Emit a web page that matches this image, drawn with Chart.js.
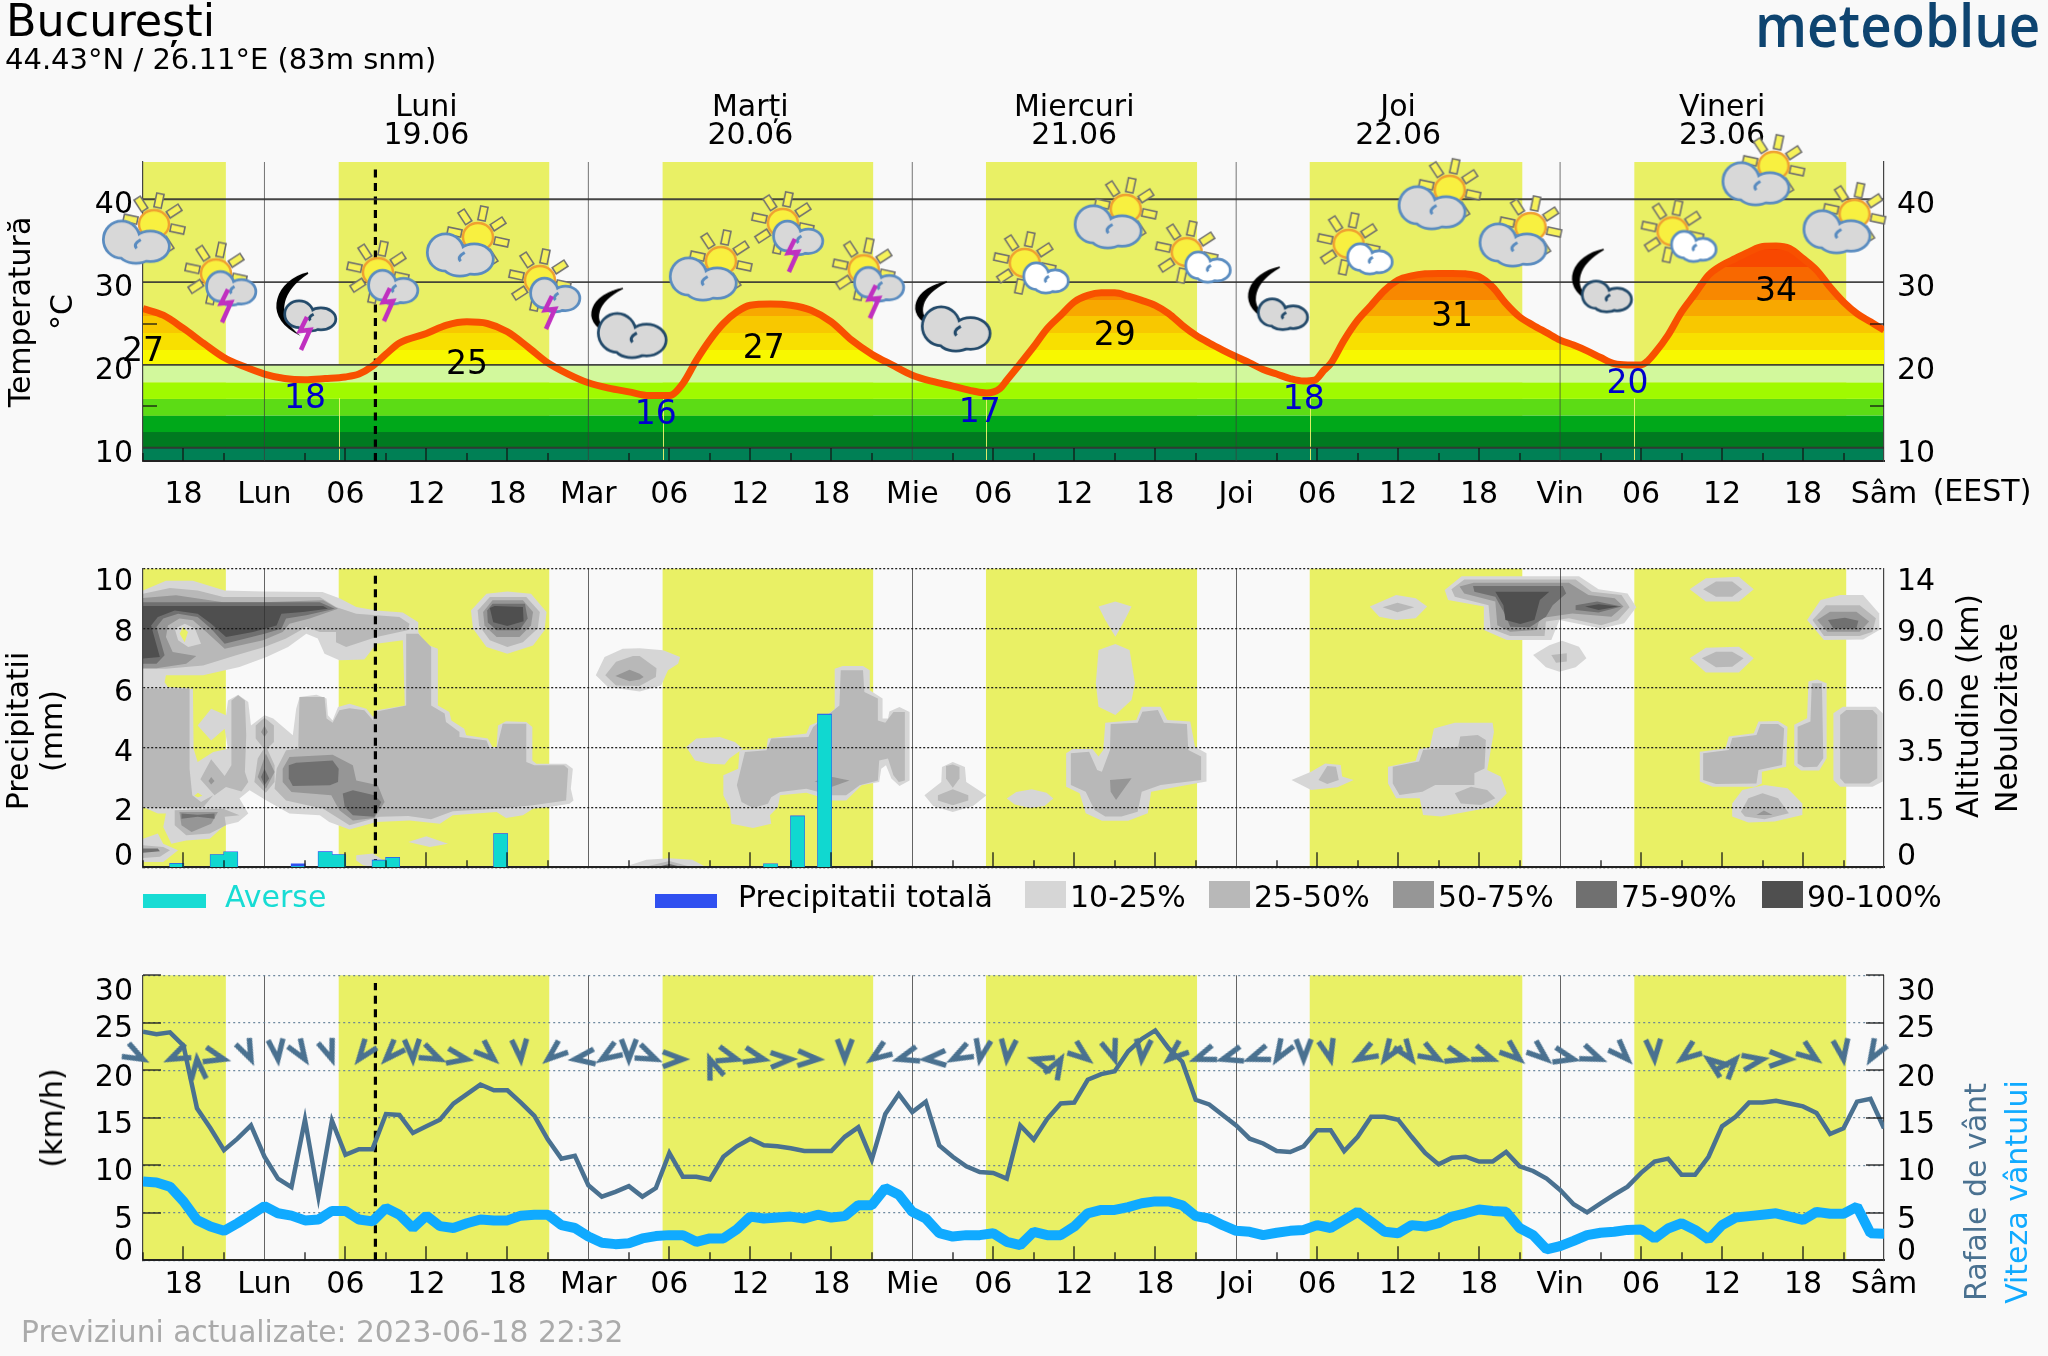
<!DOCTYPE html>
<html lang="ro">
<head>
<meta charset="utf-8">
<title>meteoblue București</title>
<script src="https://cdn.jsdelivr.net/npm/chart.js@4/dist/chart.umd.min.js"></script>
<style>
html, body { margin: 0; background: #f9f9f9; }
body { width: 2048px; height: 1356px; position: relative; overflow: hidden; font-family: "DejaVu Sans", sans-serif; }
canvas { position: absolute; left: 0; }
.txt { position: absolute; white-space: nowrap; line-height: 1; }
.swatch { position: absolute; }
</style>
</head>
<body>
<canvas id="chartTemp" width="2048" height="530" style="top:0"></canvas>
<canvas id="chartPrecip" width="2048" height="380" style="top:530px"></canvas>
<canvas id="chartWind" width="2048" height="390" style="top:930px"></canvas>
<script>
// hours are counted from 15:00 on 18.06, the left edge of every panel
const hourMax = 129;
const xTickHours = [3,9,15,21,27,33,39,45,51,57,63,69,75,81,87,93,99,105,111,117,123,129];
const xTickLabels = ['18','Lun','06','12','18','Mar','06','12','18','Mie','06','12','18','Joi','06','12','18','Vin','06','12','18','Sâm'];
const midnightHours = [9,33,57,81,105];
const minorTickHours = [0,6,12,18,24,30,36,42,48,54,60,66,72,78,84,90,96,102,108,114,120,126];
const dayHours = [21,45,69,93,117];
const dayNames = ['Luni','Marți','Miercuri','Joi','Vineri'];
const dayDates = ['19.06','20.06','21.06','22.06','23.06'];
const daylightSpans = [[0,6.14],[14.5,30.1],[38.5,54.1],[62.46,78.1],[86.45,102.2],[110.5,126.2]];
const sunriseHours = [14.5,38.5,62.46,86.45,110.5];
const nowHour = 17.22;

// temperature panel
const tempTicks = [10,20,30,40];
const tempMinorTicks = [15,25];
const tempHours = [0,1.5,3,4.5,6,7.5,9,10.5,12,13.5,15,16,17,18,19,21,22.5,24,25.5,27,28.5,30,31.5,33,34.5,36,37.5,39,40,41,42,43,44,45,46.5,48,49.5,51,52.5,54,55.5,57,58.5,60,61.5,62.5,63.5,64,65,
  66,67,68,69,70,71,72,73,74,75,76,77,78,79,80,81,82,83,84,85,86,86.8,87.5,88,89,90,91,92,93,94,95,96,97,98,99,100,101,102,103,104,105,106,107,108,109,110,111,111.5,112,113,114,115,116,117,118,119,120,121,122,123,124,125,126,127,128,129];
const tempValues = [26.8,26,24.4,22.6,20.9,19.8,18.9,18.35,18.2,18.35,18.55,18.9,19.85,21.3,22.65,23.8,24.8,25.2,25,24,22.2,20.25,18.9,17.85,17.2,16.75,16.3,16.3,17.75,20.55,23,25,26.4,27.2,27.35,27.2,26.6,25.2,23,21.3,20,18.75,18,17.45,16.85,16.6,17.15,18.15,20.15,
  22.2,24.4,26,27.6,28.4,28.7,28.7,28.3,27.8,27.2,26.2,24.8,23.6,22.65,21.8,21,20.25,19.45,18.9,18.35,18.05,18.15,19.35,20.15,23,25.4,27.2,29,30.25,30.75,31,31.05,31.05,31,30.65,29.4,27.4,25.8,24.8,23.9,23,22.4,21.7,20.9,20.15,20,20,20.5,21.4,23.6,26.4,28.6,30.85,32.05,32.85,33.65,34.3,34.35,34.05,32.85,31.45,29.4,27.6,26.2,25.2,24.2];
const coldEdges = [8.4,10,11.9,13.9,15.9,17.9,20];
const coldColors = ['#008055','#007a20','#00a81a','#5cdc15','#a0fa00','#d2f89c'];
const warmEdges = [20,21.85,23.87,25.9,27.8,29.9,31.85,33.85,45];
const warmColors = ['#f8f800','#f8e000','#f8c800','#f8a800','#f88800','#f86800','#f84800','#f82800'];
const extremeHours = [0,12,24,38,46,62,72,86,97,110,121];
const extremeLevels = [21.5,15.8,19.9,13.9,21.9,14.2,23.4,15.7,25.7,17.6,28.8];
const extremeTexts = ['27','18','25','16','27','17','29','18','31','20','34'];
const extremeColors = ['#000','#0000cc','#000','#0000cc','#000','#0000cc','#000','#0000cc','#000','#0000cc','#000'];
const iconHours = [0,6,12,18,24,30,36,42,48,54,60,66,72,78,84,90,96,102,108,114,120,126];
const iconLevels = [36.15,29.6,26.4,29.75,34.6,28.8,25,31.7,35.7,30.1,25.8,32.2,38,33.5,28.05,34.5,40.3,35.8,30.2,36,43.2,37.4];
const iconKinds = ['sunCloud','sunStorm','moonStorm','sunStorm','sunCloud','sunStorm','moonCloud','sunCloud','sunStorm','sunStorm','moonCloud','sunFair','sunCloud','sunFair','moonSmall','sunFair','sunCloud','sunCloud','moonSmall','sunFair','sunCloud','sunCloud'];

// precipitation and cloud panel
const precipTicks = [0,2,4,6,8,10];
const altitudeLabels = ['0','1.5','3.5','6.0','9.0','14'];
const precipEndHours = [3,6,7,12,14,15,18,19,27,47,49,51];
const precipTotal = [0.13,0.43,0.52,0.12,0.53,0.43,0.24,0.33,1.13,0.12,1.72,5.13];
const precipShowers = [0.11,0.41,0.5,0.02,0.5,0.41,0.22,0.31,1.1,0.1,1.7,5.1];
const cloudColors = ['#d6d6d6','#b8b8b8','#969696','#707070','#4f4f4f'];
const cloudLabels = ['10-25%','25-50%','50-75%','75-90%','90-100%'];

// outlines of the cloud cover: hour, height on the left scale, hour, height ...
// a nested list is one outline with holes
const clouds10 = [
  [[0,9.27,1.7,9.6,3.7,9.6,6.05,9.27,8.9,9.24,13.3,9.22,14.6,9,15.8,8.72,17.3,8.6,19.25,8.53,20.4,8.21,20.4,7.88,20.9,7.49,21.85,7.32,21.85,5.42,22.7,5.2,22.85,4.92,23.8,4.64,23.95,4.42,25.55,4.31,25.9,4.03,26.2,4.03,26.3,4.75,26.9,4.89,28.4,4.87,28.85,4.7,28.85,3.58,29.15,3.47,31.35,3.47,31.85,3.3,31.7,2.63,31.9,2.24,31.6,2.13,30.1,2.02,28.9,1.96,28.15,1.74,26.9,1.65,26.2,1.85,22.95,1.74,22,1.46,19.75,1.57,17.3,1.52,15.3,1.27,13.8,1.52,13.1,1.74,10.85,1.8,9.15,2.24,7.9,2.58,7.15,2.3,7.8,1.8,7.05,1.52,6.05,1.41,4.95,0.96,3.2,0.9,2.1,0.79,1.5,1.35,1.7,1.8,1.1,1.8,0,2.02],
   [1.7,6.43,4.45,6.43,7.15,6.71,9.15,7.04,10.75,7.38,12.1,7.82,12.95,7.66,13.45,7.15,14.55,6.93,16.4,6.96,17.3,7.49,19.25,7.6,19.4,5.42,17.3,5.26,17.05,5.03,16.55,5.31,15.3,5.48,14.45,5.37,14.05,4.92,13.7,5.09,13.6,5.65,12.85,5.78,11.6,5.7,11.35,5.31,11.1,4.42,9.65,4.98,9,5.09,8,4.75,7.8,5.54,7.05,5.78,6.3,5.59,6.15,5.09,5.05,5.31,4.05,4.75,5.05,4.25,6.05,4.64,6.3,3.97,5.2,3.86,4.05,3.53,3.75,3.97,3.7,5.98,1.85,6.04,1.6,6.2],
   [2.96,8.05,3.33,7.88,3.09,7.54,2.72,7.82],
   [4.07,2.5,4.4,2.4,4.07,2.35,3.8,2.4]],
  [15.8,0.4,17.05,0.46,18,0.18,17.05,0.01,16.3,0.07,15.8,0.23],
  [19.65,0.85,21,1.04,22.6,0.79,21.25,0.68],
  [0,0.96,1.1,1.13,1.5,0.79,2.6,0.57,1.5,0.18,0,0.18],
  [24.3,8.6,25.45,9.16,27,9.24,28.75,9.16,29.9,8.55,29.75,7.94,28.9,7.43,27,7.15,25.45,7.38,24.45,8],
  [33.55,6.43,34.2,7.04,35.55,7.32,36.8,7.34,38.55,7.27,39.8,7.04,39.65,6.82,38.9,6.6,38.4,6.09,36.8,5.89,34.45,6.04],
  [35.6,0,37.3,0.25,39,0.3,40.7,0.25,41.75,0],
  [40.25,4.03,41,4.31,42.75,4.36,43.85,4.2,44.45,3.97,43.45,3.64,43.1,3.44,42,3.47,40.9,3.58],
  [43,3.08,44.1,3.3,44.2,3.92,46.2,3.97,46.3,4.31,49.15,4.48,49.4,4.75,50,4.87,51.25,5.31,51.25,6.65,51.85,6.74,53.35,6.74,53.85,6.6,53.85,5.93,54.8,5.65,54.8,4.98,55.2,4.98,55.3,5.22,56.05,5.37,56.8,5.2,56.8,2.91,56.05,2.72,55.45,2.97,55.05,3.42,54.7,3.3,54.55,2.86,53.25,2.75,52.1,2.24,51,2.24,49.15,2.5,47.2,2.41,47.05,2.02,46.45,1.74,46.55,1.46,45.2,1.32,43.6,1.46,43.5,1.96,43,2.41],
  [57.9,2.41,59.15,2.86,59.2,3.36,60,3.53,60.9,3.36,61,2.86,62.5,2.41,61.5,2.05,60,1.85,58.55,2.05],
  [64,2.3,64.7,2.52,65.85,2.61,66.95,2.5,67.45,2.3,66.8,2.05,65.7,1.99,64.6,2.1],
  [70.8,8.73,72.05,8.9,73.25,8.73,72.75,8.28,72.05,7.72,71.3,8.28],
  [72.05,7.48,73.1,7.28,73.5,6.16,73.25,5.6,72.05,5.1,70.8,5.38,70.6,6.16,70.8,7.28],
  [68.4,3.82,68.9,3.96,70.35,3.96,70.8,3.71,71.15,3.93,71.3,4.84,73.6,4.93,74,5.38,75.4,5.38,75.9,4.93,77.6,4.88,77.95,4.04,78.8,3.82,78.8,2.87,76.65,2.7,74.7,2.53,74.45,1.81,73,1.56,71.05,1.56,69.85,1.81,69.4,2.48,68.4,2.7],
  [85.1,2.92,86.55,3.2,87.6,3.48,88.75,3.43,88.85,3.04,89.7,2.92,88.5,2.68,86.55,2.59],
  [92.25,3.37,94.3,3.57,94.55,3.95,95.35,4.02,95.65,4.65,97.2,4.84,100,4.84,100.1,4.54,99.6,3.26,100.6,3.04,101.05,2.48,100.1,2.03,96.2,1.7,94.85,1.75,94.6,2.31,92.85,2.31,92.25,2.81],
  [90.9,8.73,92.85,9.12,94.3,9.01,95.15,8.73,94.3,8.34,92.85,8.28,91.6,8.39],
  [96.45,9.29,97.7,9.75,106.4,9.75,107.85,9.31,110,9.17,110.65,8.71,109.75,8.17,108.05,8,104.95,8.28,104.35,7.61,101.05,7.61,99.35,7.95,99.35,8.73,96.7,8.95],
  [103,7.11,104.2,7.44,105.15,7.59,106.4,7.39,106.95,7,106.15,6.7,104.95,6.55,103.95,6.7],
  [114.6,9.31,115.8,9.68,118.25,9.73,119.35,9.31,118.25,8.9,115.8,8.9],
  [114.6,7,115.8,7.35,118.25,7.39,119.35,7,118.25,6.52,115.8,6.52],
  [123.3,8.28,124.3,8.95,125.75,9.12,127.45,9.12,128.65,8.5,128.65,7.95,127.45,7.63,124.55,7.61],
  [115.35,3.87,117.25,3.98,117.5,4.38,119.35,4.49,119.7,4.88,121.15,4.9,121.85,4.71,121.75,3.37,119.95,3.2,119.95,2.81,119.45,2.7,116.3,2.7,115.35,2.87],
  [122.35,4.77,123.3,4.99,123.4,6.22,124.05,6.29,124.75,6.16,124.75,3.65,124.2,3.24,122.85,3.24,122.35,3.43],
  [125.25,5.16,125.95,5.38,128.4,5.38,128.9,5.16,128.9,2.87,128.15,2.7,125.75,2.7,125.25,2.92],
  [117.75,2.14,118.5,2.59,120.15,2.76,121.85,2.65,122.95,2.14,122.95,1.75,120.9,1.53,118.95,1.5,117.75,1.7]
];
const clouds25 = [
  [[0,9.16,2,9.35,4.05,9.27,5.95,9.05,8.9,9.05,13.1,9.05,14.3,8.72,15.8,8.49,17.3,8.44,19,8.38,19.75,8.16,19.6,7.94,17.3,7.71,15.05,7.38,14.3,7.54,14.3,7.88,13.1,7.88,12.1,8.05,10.6,7.66,9,7.38,6.9,7.1,4.45,6.76,1.7,6.65,0,6.65],
   [2.35,7.99,3.1,8.16,3.85,8,4.3,7.49,3.35,7.38,2.6,7.6]],
  [0,5.98,3.45,5.98,3.45,3.3,3.65,2.41,4.3,2.19,5.2,2.41,4.45,2,0,2],
  [7.05,5.76,7.55,5.59,7.65,4.42,7.55,3.19,7.8,2.86,7.3,2.54,6.15,2.69,5.3,2.41,4.25,2.95,5.05,3.62,6.05,3.06,6.55,3.42,6.55,5.59],
  [9,5.01,9.7,4.75,9.7,4.2,9.2,3.97,9.75,3.42,9.75,2.86,9.1,2.5,8.25,2.86,8.5,3.64,8.95,3.97,8.35,4.31,8.35,4.75],
  [11.6,5.7,13.45,5.7,13.6,4.98,14.05,4.84,14.55,5.26,15.3,5.33,16.4,5.26,17.05,4.92,17.15,5.2,19.5,5.42,19.5,7.82,20.4,7.82,21.35,7.38,21.35,5.42,22.35,5.15,22.45,4.87,23.45,4.53,23.45,4.36,25.45,4.25,25.7,3.97,26.2,3.97,26.65,4.81,28.4,4.81,28.4,3.53,29,3.42,31.2,3.42,31.5,3.3,31.35,2.24,28.9,2.08,26.2,1.96,22.95,1.88,21.35,1.61,19.65,1.72,17.55,1.69,15.3,1.41,14.3,1.69,13.35,1.96,10.6,2.24,9.75,2.63,9.9,3.3,10.6,3.92,11.5,3.97],
  [2.35,1.91,5.95,1.96,7.15,1.74,6.05,1.69,6.15,1.41,4.95,1.13,3.2,1.07,2.35,1.41],
  [0,0.74,1.5,0.68,2,0.57,1.25,0.35,0,0.31],
  [24.8,8.6,25.7,9.05,28.4,9.05,29.4,8.55,29.25,8,28.15,7.54,27,7.38,25.7,7.6,24.9,8.1],
  [34.25,6.43,35.05,6.88,36.3,7.08,36.8,7.08,38.05,6.67,38,6.37,36.8,6.07,35.05,6.09],
  [37.05,0,39,0.21,40.7,0],
  [44,2.75,44.6,3.86,46.2,3.92,46.55,4.31,49.3,4.36,49.65,4.7,51.6,5.42,51.7,6.6,53.35,6.6,53.45,5.87,54.45,5.65,54.45,4.92,55,4.84,55.6,5.2,56.45,5.2,56.45,2.91,56,2.86,55.6,3.08,55.2,3.64,54.55,3.58,54.45,2.91,53.1,2.75,52.1,2.41,51,2.41,49.15,2.63,47.2,2.52,46.55,2.35,46.3,2.13,45.2,1.99,44.35,2.19],
  [59.5,3.39,60,3.44,60.5,3.36,60.5,2.97,60,2.66,59.5,2.97],
  [58.9,2.41,60,2.61,61.15,2.41,61.15,2.24,60,2.08,58.9,2.24],
  [68.75,3.82,70.1,3.87,70.7,3.26,71.05,3.2,71.65,3.93,71.7,4.8,73.7,4.84,74.05,5.21,75.2,5.27,75.65,4.84,77.35,4.8,77.45,3.93,78.4,3.71,78.4,2.92,75.4,2.76,74,2.53,73.7,1.86,72.5,1.7,71.3,1.7,70.5,1.92,69.85,2.53,68.75,2.76],
  [87.1,2.92,87.75,3.39,88.4,3.37,88.6,2.92,87.75,2.79],
  [92.6,3.37,94.55,3.54,94.85,3.93,97.45,4.04,97.6,4.38,98.9,4.43,99.5,4.26,99.4,3.31,98.65,3.15,98.65,2.76,95.75,2.76,94.8,2.53,93.1,2.42,92.6,2.81],
  [97.2,2.48,98.4,2.7,99.6,2.59,100.2,2.31,99.15,2.09,97.65,2.14],
  [91.85,8.71,92.95,8.86,94.2,8.71,92.95,8.54],
  [96.95,9.31,97.9,9.64,106.15,9.64,107.35,9.23,109.55,9.12,110.15,8.71,109.3,8.28,108.05,8.11,105.65,8.34,103.95,8.23,103.85,7.75,101.3,7.75,99.85,8,99.7,8.78,97.2,9.06],
  [104.35,7.11,105.5,7.17,105.5,6.89,104.7,6.85],
  [115.6,9.31,116.55,9.57,117.75,9.57,118.5,9.31,117.75,9.06,116.55,9.06],
  [115.5,7,116.55,7.22,117.75,7.22,118.6,7,117.75,6.72,116.55,6.7],
  [123.7,8.28,124.7,8.78,127.2,8.78,128.4,8.34,128.15,7.89,127.2,7.75,124.55,7.75],
  [115.6,3.82,117.5,3.93,117.75,4.33,119.55,4.43,119.85,4.8,121.15,4.8,121.6,4.65,121.45,3.43,119.7,3.26,119.55,2.81,116.55,2.79,115.6,2.92],
  [122.6,4.71,123.55,4.88,123.65,6.16,124.4,6.16,124.5,3.65,124.05,3.37,123.05,3.35,122.6,3.48],
  [125.75,5.1,126.2,5.27,128.15,5.27,128.5,5.1,128.5,2.98,127.9,2.81,126.1,2.81,125.75,2.98],
  [118.4,1.86,118.95,2.31,120,2.48,121.15,2.31,121.95,1.81,120.15,1.61,118.7,1.7]
];
const clouds50 = [
  [0,9.02,2.45,9.11,5.95,8.88,8.9,8.88,13.35,8.94,14.45,8.66,12.35,8.33,10.85,8.16,10.35,7.88,8.9,7.6,6.05,7.32,4.7,7.88,3.7,8.27,2.7,8.33,1.85,8.1,1.7,7.71,2.2,7.21,3.95,7.08,3.2,6.82,1,6.67,0,6.67],
  [10.35,3.3,10.85,3.69,14.05,3.77,15.55,3.42,15.8,2.91,17.4,2.75,17.9,2.19,17.15,1.65,15.55,1.57,14.55,1.91,13.95,2.41,11,2.52,10.35,2.86],
  [9.1,3.81,9.75,3.19,9.1,2.63,8.5,3.02],
  [9,4.75,9.25,4.53,9,4.36,8.75,4.53],
  [5.05,3.02,5.3,2.89,5.05,2.77,4.85,2.89],
  [2.7,1.85,5.55,1.85,5.05,1.46,3.6,1.18,2.85,1.41],
  [25.2,8.55,25.9,8.94,28.15,8.94,28.9,8.55,28.75,8.1,27.9,7.71,26.2,7.71,25.3,8.1],
  [35,6.41,36.05,6.62,36.8,6.48,37.1,6.37,36.8,6.29,36.05,6.23],
  [49.75,2.88,51.1,3.02,52.35,2.91,51,2.69],
  [71.65,2.92,73.25,2.98,72.1,2.25,71.7,2.53],
  [97.55,9.4,98.6,9.53,105.65,9.53,107.1,9.12,109.05,9.01,109.7,8.73,108.8,8.39,105.9,8.5,103.5,8.34,103.25,7.95,101.3,7.89,100.35,8.11,100.2,8.9,97.9,9.17],
  [124.05,8.28,125,8.56,126.95,8.56,127.9,8.23,127.2,7.89,124.8,7.89],
  [119.55,1.75,120.1,1.9,120.75,1.75]
];
const clouds75 = [
  [0,8.88,13.1,8.88,14.2,8.66,12.1,8.44,10.6,8.33,10.25,7.99,9,7.82,6.05,7.49,5.05,7.99,4.05,8.38,2.6,8.49,1.5,8.33,1,8.05,1.6,7.1,1,6.82,0,6.82],
  [10.8,3.42,11.35,3.5,14.05,3.58,14.5,3.3,14.45,2.86,13.85,2.75,11.1,2.72,10.8,2.97],
  [14.8,2.47,15.55,2.58,17.15,2.41,17.65,2.19,17.15,1.69,15.55,1.74,14.95,2.02],
  [9,3.3,9.35,2.97,9,2.75,8.75,3.02],
  [2.85,1.8,4.05,1.76,5.3,1.8,5.3,1.63,4.05,1.69,2.85,1.63],
  [0,0.63,1.1,0.63,1.25,0.54,0,0.49],
  [25.5,8.6,25.9,8.83,28.3,8.83,28.5,8.33,27.9,7.94,26.2,7.94,25.55,8.2],
  [38,0,39,0.11,40,0],
  [98.55,9.42,105.2,9.42,105.45,9.17,104.45,8.78,103.95,8.39,102.75,8.04,101.3,8.06,100.95,8.45,100.2,9.06,98.65,9.23],
  [106.15,8.78,107.75,8.9,109.55,8.73,107.85,8.53,106.15,8.62],
  [124.85,8.28,126.1,8.36,127.1,8.26,126.95,8,125.25,8]
];
const clouds90 = [
  [0,8.75,13.35,8.75,13.7,8.66,11.85,8.55,10.25,8.49,9.9,8.1,8.15,7.88,6.15,7.71,5.05,8.16,4.05,8.49,2.35,8.6,1.1,8.38,0.6,8.1,1.25,7.04,0,6.99],
  [25.7,8.68,26.05,8.75,28.15,8.72,28.2,8.24,27,8.08,25.95,8.21],
  [100.2,9.23,104.2,9.23,103.5,8.95,103.1,8.28,102.05,8.15,100.95,8.28,100.8,8.78],
  [106.85,8.73,107.85,8.81,109.3,8.73,107.85,8.62]
];
const cloudLayers = [clouds10, clouds25, clouds50, clouds75, clouds90];

// wind panel, one value per hour
const windTicks = [0,5,10,15,20,25,30];
const gustValues = [24.07,23.8,24,22.6,16,13.9,11.6,12.8,14.2,10.9,8.6,7.7,14.8,6.7,14.7,11.1,11.7,11.7,15.4,15.3,13.4,14.1,14.8,16.5,17.5,18.5,17.9,17.9,16.6,15.2,12.7,10.7,11,7.9,6.7,7.2,7.8,6.7,7.6,11.3,8.8,8.8,8.5,10.9,12,12.8,12.1,12,11.8,11.5,11.5,11.5,13,14,10.6,15.4,17.5,15.6,16.7,12.1,10.9,9.9,9.3,9.2,8.6,14.2,
  12.7,14.9,16.5,16.6,19,19.6,19.9,22,23.3,24.2,22.3,20.9,16.9,16.4,15.3,14.2,12.8,12.3,11.5,11.4,12,13.7,13.7,11.5,13,15.1,15.1,14.8,13,11.3,10.1,10.8,10.9,10.4,10.4,11.4,9.9,9.4,8.6,7.4,5.9,5.05,6,6.9,7.75,9.2,10.4,10.7,9,9,10.9,14.1,15.1,16.6,16.6,16.8,16.5,16.2,15.5,13.3,13.9,16.7,17,13.9];
const speedValues = [8.3,8.2,7.75,6.2,4.25,3.55,3.1,3.9,4.8,5.7,4.95,4.7,4.2,4.3,5.2,5.2,4.3,4.1,5.5,4.8,3.4,4.7,3.6,3.4,3.9,4.3,4.2,4.2,4.7,4.8,4.8,3.7,3.4,2.5,1.85,1.7,1.8,2.3,2.55,2.65,2.65,1.95,2.3,2.3,3.25,4.6,4.4,4.5,4.6,4.4,4.8,4.5,4.65,5.8,5.8,7.6,6.9,5.1,4.4,2.85,2.5,2.65,2.65,2.85,1.95,1.6,
  3,2.65,2.65,3.55,4.95,5.3,5.3,5.6,6,6.2,6.2,5.8,4.65,4.4,3.7,3.1,3,2.65,2.9,3.1,3.2,3.7,3.4,4.25,5.1,4.05,3,2.85,3.7,3.55,3.9,4.6,4.95,5.35,5.2,5.1,3.4,2.65,1.15,1.5,2.05,2.65,2.9,3,3.2,3.25,2.3,3.35,3.9,3.2,2.2,3.7,4.5,4.65,4.8,4.95,4.6,4.25,5.1,4.9,4.9,5.65,2.85,2.8];
// one direction every 2 hours, degrees clockwise from north
const windDirections = [118,245,355,104,155,173,147,160,217,223,177,115,100,132,175,230,262,237,180,114,90,339,106,103,88,93,180,235,254,266,242,191,186,286,30,128,161,186,230,250,254,250,212,180,166,240,214,144,120,105,110,130,130,103,112,136,176,233,307,41,80,91,126,171,211];
const windArrowLevel = 21.16;

const BLACK = '#000';
const FONT = '"DejaVu Sans", sans-serif';
const DAY_YELLOW = '#e9f065';
const WIND_BLUE = '#4a7190';
const LIGHT_BLUE = '#10aaff';
const TEXT_SIZE = 30;

// ---- weather symbols, drawn once into small canvases for pointStyle ----
function drawSun(c, cx, cy) {
    for (let i = 0; i < 8; i++) {
        c.save();
        c.translate(cx, cy);
        c.rotate((i * 45 + 12) * Math.PI / 180);
        c.fillStyle = '#f6f25a';
        c.strokeStyle = '#6f6f6f';
        c.lineWidth = 1.6;
        c.fillRect(-3.7, -31, 7.4, 14);
        c.strokeRect(-3.7, -31, 7.4, 14);
        c.restore();
    }
    c.beginPath();
    c.ellipse(cx, cy, 15, 14, 0, 0, Math.PI * 2);
    c.fillStyle = '#f8f040';
    c.fill();
    c.strokeStyle = '#f0a030';
    c.lineWidth = 2.4;
    c.stroke();
}

function drawCloud(c, cx, cy, w, h, fill, stroke) {
    const lobes = [[-0.42, -0.12, 0.5, 0.82], [0.42, 0.2, 0.52, 0.66], [0, 0.42, 0.5, 0.52]];
    const trace = () => {
        c.beginPath();
        lobes.forEach(l => {
            const x = cx + l[0] * w / 2, y = cy + l[1] * h / 2;
            c.moveTo(x + l[2] * w / 2, y);
            c.ellipse(x, y, l[2] * w / 2, l[3] * h / 2, 0, 0, Math.PI * 2);
        });
    };
    trace();
    c.strokeStyle = stroke;
    c.lineWidth = 5.5;
    c.stroke();
    trace();
    c.fillStyle = fill;
    c.fill();
    c.beginPath();
    c.moveTo(cx + 0.14 * w / 2, cy - 0.12 * h / 2);
    c.quadraticCurveTo(cx - 0.1 * w / 2, cy + 0.1 * h / 2, cx + 0.02 * w / 2, cy + 0.3 * h / 2);
    c.lineWidth = 3;
    c.stroke();
}

function drawMoon(c, sx, sy) {
    c.save();
    c.scale(sx, sy);
    c.beginPath();
    c.moveTo(35, 1);
    c.bezierCurveTo(5, 8, -10, 42, 22, 60);
    c.bezierCurveTo(2, 42, 9, 18, 35, 1);
    c.fillStyle = BLACK;
    c.fill();
    c.strokeStyle = BLACK;
    c.lineWidth = 1.5;
    c.stroke();
    c.restore();
}

function drawBolt(c, x, y) {
    c.beginPath();
    c.moveTo(x + 8, y);
    c.lineTo(x + 1, y + 14);
    c.lineTo(x + 11, y + 13);
    c.lineTo(x + 2, y + 33);
    c.strokeStyle = '#c030c0';
    c.lineWidth = 4.5;
    c.stroke();
}

function makeIcon(w, h, draw) {
    const pad = 8;
    const canvas = document.createElement('canvas');
    canvas.width = w + pad * 2;
    canvas.height = h + pad * 2;
    const c = canvas.getContext('2d');
    c.translate(pad, pad);
    draw(c);
    return canvas;
}

const CLOUD_EDGE = '#5a8cc0';
const NIGHT_EDGE = '#234a6a';
const GREY_CLOUD = '#d8d8d8';
const iconCanvases = {
    sunCloud: makeIcon(84, 70, c => { drawSun(c, 53, 28); drawCloud(c, 35, 46, 68, 42, GREY_CLOUD, CLOUD_EDGE); }),
    sunStorm: makeIcon(74, 78, c => { drawSun(c, 29, 27); drawCloud(c, 44, 42, 50, 33, GREY_CLOUD, CLOUD_EDGE); drawBolt(c, 33, 43); }),
    sunFair: makeIcon(76, 60, c => { drawSun(c, 29, 29); drawCloud(c, 50, 44, 45, 29, '#fff', CLOUD_EDGE); }),
    moonStorm: makeIcon(64, 80, c => { drawMoon(c, 1, 1); drawCloud(c, 37, 44, 52, 29, GREY_CLOUD, NIGHT_EDGE); drawBolt(c, 26, 45); }),
    moonCloud: makeIcon(82, 72, c => { drawMoon(c, 1, 0.78); drawCloud(c, 44, 48, 70, 44, GREY_CLOUD, NIGHT_EDGE); }),
    moonSmall: makeIcon(64, 64, c => { drawMoon(c, 1, 0.88); drawCloud(c, 38, 48, 50, 30, GREY_CLOUD, NIGHT_EDGE); })
};

// the arrow tip sits in the middle so that it stays on the level when rotated
const arrowCanvas = (() => {
    const canvas = document.createElement('canvas');
    canvas.width = canvas.height = 52;
    const c = canvas.getContext('2d');
    c.beginPath();
    c.moveTo(26 - 7.5, 26 + 20);
    c.lineTo(26, 26);
    c.lineTo(26 + 7.5, 26 + 20);
    c.strokeStyle = WIND_BLUE;
    c.lineWidth = 5.3;
    c.lineJoin = 'miter';
    c.stroke();
    return canvas;
})();

// ---- plugins ----
const daylight = {
    id: 'daylight',
    beforeDraw(chart) {
        const { ctx, chartArea: a, scales: { x } } = chart;
        ctx.save();
        ctx.fillStyle = DAY_YELLOW;
        daylightSpans.forEach(([from, to]) => {
            const x0 = x.getPixelForValue(from);
            ctx.fillRect(x0, a.top, x.getPixelForValue(to) - x0, a.height);
        });
        ctx.restore();
    }
};

const coldBands = {
    id: 'coldBands',
    beforeDraw(chart) {
        const { ctx, chartArea: a, scales: { x, y } } = chart;
        ctx.save();
        coldColors.forEach((color, i) => {
            const top = y.getPixelForValue(coldEdges[i + 1]);
            ctx.fillStyle = color;
            ctx.fillRect(a.left, top, a.width, y.getPixelForValue(coldEdges[i]) - top);
        });
        ctx.strokeStyle = 'rgba(245,245,110,0.9)';
        ctx.lineWidth = 1;
        sunriseHours.forEach(h => {
            const px = Math.round(x.getPixelForValue(h)) + 0.5;
            ctx.beginPath();
            ctx.moveTo(px, y.getPixelForValue(16));
            ctx.lineTo(px, a.bottom);
            ctx.stroke();
        });
        ctx.restore();
    }
};

// the warm colours only show below the temperature curve
const warmGradient = {
    id: 'warmGradient',
    afterLayout(chart) {
        const y = chart.scales.y;
        const top = y.getPixelForValue(warmEdges[warmEdges.length - 1]);
        const bottom = y.getPixelForValue(warmEdges[0]);
        const grad = chart.ctx.createLinearGradient(0, bottom, 0, top);
        warmColors.forEach((color, i) => {
            grad.addColorStop((y.getPixelForValue(warmEdges[i]) - bottom) / (top - bottom), color);
            grad.addColorStop((y.getPixelForValue(warmEdges[i + 1]) - bottom) / (top - bottom), color);
        });
        chart.data.datasets.find(d => d.label === 'Temperatură').fill.above = grad;
    }
};

const cloudCover = {
    id: 'cloudCover',
    beforeDraw(chart) {
        const { ctx, chartArea: a, scales: { x, y } } = chart;
        ctx.save();
        ctx.beginPath();
        ctx.rect(a.left, a.top, a.width, a.height);
        ctx.clip();
        cloudLayers.forEach((layer, i) => {
            ctx.fillStyle = cloudColors[i];
            layer.forEach(outline => {
                const rings = Array.isArray(outline[0]) ? outline : [outline];
                ctx.beginPath();
                rings.forEach(ring => {
                    for (let j = 0; j < ring.length; j += 2) {
                        const px = x.getPixelForValue(ring[j]), py = y.getPixelForValue(ring[j + 1]);
                        if (j === 0) ctx.moveTo(px, py); else ctx.lineTo(px, py);
                    }
                    ctx.closePath();
                });
                ctx.fill('evenodd');
            });
        });
        ctx.restore();
    }
};

const extremeLabels = {
    id: 'extremeLabels',
    afterDatasetsDraw(chart) {
        const { ctx, scales: { x, y } } = chart;
        ctx.save();
        ctx.font = '33px ' + FONT;
        ctx.textAlign = 'center';
        ctx.textBaseline = 'middle';
        extremeTexts.forEach((text, i) => {
            ctx.fillStyle = extremeColors[i];
            ctx.fillText(text, x.getPixelForValue(extremeHours[i]), y.getPixelForValue(extremeLevels[i]));
        });
        ctx.restore();
    }
};

// short marks inside the plot along the bottom and at both sides
function innerTicks(tall, short, sideLevels, sideLength) {
    return {
        id: 'innerTicks',
        afterDatasetsDraw(chart) {
            const { ctx, chartArea: a, scales: { x, y } } = chart;
            ctx.save();
            ctx.strokeStyle = 'rgba(20,20,20,0.85)';
            ctx.lineWidth = 1.5;
            const mark = (x0, y0, x1, y1) => {
                ctx.beginPath();
                ctx.moveTo(x0, y0);
                ctx.lineTo(x1, y1);
                ctx.stroke();
            };
            xTickHours.filter(h => !midnightHours.includes(h) && h < hourMax).forEach(h => {
                const px = Math.round(x.getPixelForValue(h));
                mark(px, a.bottom, px, a.bottom - tall);
            });
            minorTickHours.forEach(h => {
                const px = Math.round(x.getPixelForValue(h));
                mark(px, a.bottom, px, a.bottom - short);
            });
            sideLevels.forEach(v => {
                const py = Math.round(y.getPixelForValue(v));
                mark(a.left, py, a.left + sideLength, py);
                mark(a.right, py, a.right - sideLength, py);
            });
            ctx.restore();
        }
    };
}

// tick labels sit a little below their line, and the end ones are pulled inside
function labelNudge(offsets) {
    return {
        id: 'labelNudge',
        beforeDraw(chart) {
            ['y', 'yr'].forEach(id => {
                chart.scales[id].getLabelItems().forEach((item, i) => {
                    item.options.translation[1] += offsets[i];
                });
            });
        }
    };
}

// ---- scale helpers ----
function fixedTicks(values) {
    return scale => { scale.ticks = values.map(value => ({ value })); };
}

function bottomAxis(height, padding, showLabels) {
    return {
        type: 'linear', min: 0, max: hourMax, offset: false,
        afterBuildTicks: fixedTicks(xTickHours),
        afterFit: scale => { scale.height = height; },
        border: { color: '#222', width: 2 },
        grid: {
            drawTicks: false, offset: false, lineWidth: 1,
            color: ctx => (ctx.tick && midnightHours.includes(ctx.tick.value)) ? 'rgba(50,50,50,0.75)' : 'rgba(0,0,0,0)'
        },
        ticks: {
            display: showLabels, autoSkip: false, maxRotation: 0, minRotation: 0, padding,
            color: BLACK, font: { family: FONT, size: TEXT_SIZE },
            callback: value => xTickLabels[xTickHours.indexOf(value)]
        }
    };
}

function sideAxis(position, min, max, values, gridOptions, dash, labels) {
    return {
        type: 'linear', position, min, max,
        afterBuildTicks: fixedTicks(values),
        afterFit: scale => { scale.width = position === 'left' ? 143 : 164; },
        border: { color: '#444', width: 1.2, dash: dash },
        grid: Object.assign({ drawTicks: false }, gridOptions),
        ticks: {
            autoSkip: false, padding: position === 'left' ? 10 : 13,
            color: BLACK, font: { family: FONT, size: TEXT_SIZE },
            callback: (value, i) => labels ? labels[i] : String(value)
        }
    };
}

function ruleDataset(points, color, width, order) {
    return {
        type: 'line', data: points, borderColor: color, borderWidth: width,
        pointRadius: 0, fill: false, order, clip: false
    };
}

function nowLine(top, bottom) {
    return {
        type: 'line', label: 'now',
        data: [{ x: nowHour, y: bottom }, { x: nowHour, y: top }],
        borderColor: BLACK, borderWidth: 3.2, borderDash: [8, 5.5],
        pointRadius: 0, fill: false, order: 5
    };
}

const baseOptions = {
    responsive: false, animation: false, events: [], devicePixelRatio: 1,
    plugins: { legend: { display: false }, tooltip: { enabled: false } }
};

// ---- temperature ----
const tempMin = 8.4, tempMax = 44.5;
const tempRules = tempTicks.map(v => ruleDataset([{ x: 0, y: v }, { x: hourMax, y: v }], 'rgba(50,50,50,0.9)', 1.8, 1));
const midnightRules = midnightHours.map(h => ruleDataset([{ x: h, y: tempMin }, { x: h, y: tempMax }], 'rgba(60,60,60,0.7)', 1, 2));

new Chart(document.getElementById('chartTemp'), {
    type: 'line',
    data: {
        datasets: [
            {
                label: 'Simboluri',
                data: iconHours.map((h, i) => ({ x: h, y: iconLevels[i] })),
                showLine: false, clip: false, order: 0,
                pointRadius: 2,
                pointStyle: ctx => iconCanvases[iconKinds[ctx.dataIndex]]
            },
            ...tempRules,
            ...midnightRules,
            {
                label: 'Temperatură',
                data: tempHours.map((h, i) => ({ x: h, y: tempValues[i] })),
                borderColor: '#f85000', borderWidth: 7, pointRadius: 0,
                cubicInterpolationMode: 'monotone', order: 3,
                fill: { target: { value: 20 }, above: '#f8f800', below: 'rgba(0,0,0,0)' }
            },
            nowLine(43.8, tempMin)
        ]
    },
    options: Object.assign({}, baseOptions, {
        layout: { padding: 0 },
        scales: {
            x: Object.assign(bottomAxis(69, 8, true), { grid: { display: false } }),
            xTop: {
                type: 'linear', position: 'top', min: 0, max: hourMax,
                afterBuildTicks: fixedTicks(dayHours),
                afterFit: scale => { scale.height = 162; },
                border: { display: false },
                grid: { display: false, drawTicks: false },
                ticks: {
                    autoSkip: false, maxRotation: 0, minRotation: 0, padding: 12, color: BLACK,
                    font: { family: FONT, size: TEXT_SIZE, lineHeight: 0.93 },
                    callback: value => {
                        const i = dayHours.indexOf(value);
                        return [dayNames[i], dayDates[i]];
                    }
                }
            },
            y: sideAxis('left', tempMin, tempMax, tempTicks, { display: false }),
            yr: sideAxis('right', tempMin, tempMax, tempTicks, { display: false })
        }
    }),
    plugins: [daylight, coldBands, warmGradient, extremeLabels, innerTicks(13, 8, tempMinorTicks, 14), labelNudge([6, 6, 6, 6])]
});

// ---- precipitation and clouds ----
new Chart(document.getElementById('chartPrecip'), {
    type: 'bar',
    data: {
        datasets: [
            nowLine(9.79, 0),
            {
                label: 'Averse',
                data: precipEndHours.map((h, i) => ({ x: h - 0.5, y: precipShowers[i] })),
                backgroundColor: '#10d8d0', barThickness: 13, grouped: false, order: 2
            },
            {
                label: 'Precipitatii totală',
                data: precipEndHours.map((h, i) => ({ x: h - 0.5, y: precipTotal[i] })),
                backgroundColor: '#3050f0', barThickness: 14, grouped: false, order: 3
            }
        ]
    },
    options: Object.assign({}, baseOptions, {
        layout: { padding: { top: 38.7 } },
        scales: {
            x: bottomAxis(42.7, 0, false),
            y: sideAxis('left', 0, 10, precipTicks, { color: 'rgba(20,20,20,0.95)', lineWidth: 1.3 }, [2, 2]),
            yr: sideAxis('right', 0, 10, precipTicks, { display: false }, undefined, altitudeLabels)
        }
    }),
    plugins: [daylight, cloudCover, innerTicks(15, 7, [], 0), labelNudge([-10, 5, 5, 5, 5, 14])]
});

// ---- wind ----
new Chart(document.getElementById('chartWind'), {
    type: 'line',
    data: {
        datasets: [
            {
                label: 'Direcție',
                data: windDirections.map((d, i) => ({ x: i * 2, y: windArrowLevel })),
                showLine: false, clip: false, order: 0,
                pointRadius: 2, pointStyle: arrowCanvas, pointRotation: windDirections
            },
            {
                label: 'Rafale de vânt',
                data: gustValues.map((v, h) => ({ x: h, y: v })),
                borderColor: WIND_BLUE, borderWidth: 4.5, pointRadius: 0, order: 1
            },
            {
                label: 'Viteza vântului',
                data: speedValues.map((v, h) => ({ x: h, y: v })),
                borderColor: LIGHT_BLUE, borderWidth: 10, pointRadius: 0, borderJoinStyle: 'bevel', order: 2
            },
            nowLine(29.2, 0)
        ]
    },
    options: Object.assign({}, baseOptions, {
        layout: { padding: { top: 45.3 } },
        scales: {
            x: bottomAxis(59.7, 7, true),
            y: sideAxis('left', 0, 30, windTicks, { color: 'rgba(95,125,150,0.9)', lineWidth: 1.2 }, [2, 3]),
            yr: sideAxis('right', 0, 30, windTicks, { display: false })
        }
    }),
    plugins: [daylight, innerTicks(14, 8, [5, 10, 15, 20, 25, 30], 18), labelNudge([-8, 7, 7, 7, 8, 6.4, 17])]
});

// ---- everything around the charts ----
function addText(text, x, y, opts) {
    const o = Object.assign({ size: TEXT_SIZE, color: BLACK, rot: 0, anchor: 'center' }, opts);
    const el = document.createElement('div');
    el.className = 'txt';
    el.textContent = text;
    el.style.left = x + 'px';
    el.style.top = y + 'px';
    el.style.fontSize = o.size + 'px';
    el.style.color = o.color;
    if (o.family) el.style.fontFamily = o.family;
    if (o.weight) el.style.fontWeight = o.weight;
    const shift = o.anchor === 'left' ? 'translate(0,-50%)' : 'translate(-50%,-50%)';
    if (o.anchor === 'left') el.style.transformOrigin = 'left center';
    el.style.transform = shift + (o.rot ? ' rotate(' + o.rot + 'deg)' : '') + (o.stretch ? ' scaleX(' + o.stretch + ')' : '');
    document.body.appendChild(el);
}

function addSwatch(x, y, w, h, color) {
    const el = document.createElement('div');
    el.className = 'swatch';
    el.style.cssText = 'left:' + x + 'px;top:' + y + 'px;width:' + w + 'px;height:' + h + 'px;background:' + color;
    document.body.appendChild(el);
}

addText('București', 6, 21, { size: 44.5, anchor: 'left' });
addText('44.43°N / 26.11°E (83m snm)', 5, 59, { size: 29, anchor: 'left' });
addText('meteoblue', 1755, 24, { size: 60, color: '#0e4470', weight: 600, family: '"Open Sans", sans-serif', anchor: 'left', stretch: 0.91 });
addText('(EEST)', 1982, 491);
addText('Previziuni actualizate: 2023-06-18 22:32', 21, 1332, { size: 29.7, color: '#aaa', anchor: 'left' });

addText('Temperatură', 20, 312, { rot: -90 });
addText('°C', 62, 312, { rot: -90 });
addText('Precipitatii', 18, 731, { rot: -90 });
addText('(mm)', 52, 731, { rot: -90 });
addText('(km/h)', 52, 1118, { rot: -90 });
addText('Altitudine (km)', 1968, 706, { rot: -90 });
addText('Nebulozitate', 2007, 718, { rot: -90 });
addText('Rafale de vânt', 1976, 1192, { rot: -90, color: WIND_BLUE });
addText('Viteza vântului', 2017, 1192, { rot: -90, color: LIGHT_BLUE });

addSwatch(143, 894, 63, 14, '#18dcd4');
addText('Averse', 225, 897, { color: '#18dcd4', anchor: 'left' });
addSwatch(655, 894, 62, 14, '#3050f0');
addText('Precipitatii totală', 738, 897, { anchor: 'left' });
const swatchLefts = [1025, 1209, 1393, 1576, 1762];
cloudLabels.forEach((label, i) => {
    addSwatch(swatchLefts[i], 881, 41, 27, cloudColors[i]);
    addText(label, swatchLefts[i] + 45, 897, { anchor: 'left' });
});
</script>
</body>
</html>
